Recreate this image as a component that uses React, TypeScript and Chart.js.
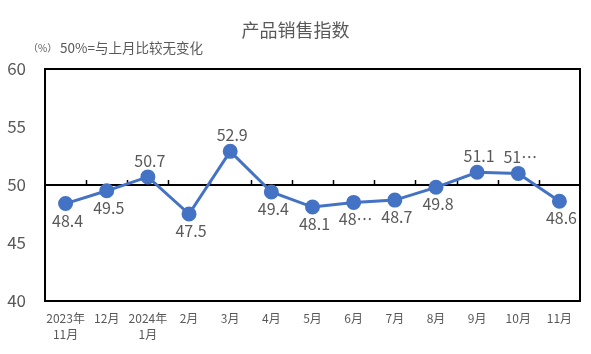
import React, { useEffect, useRef } from "react";
import { Chart, registerables } from "chart.js";

Chart.register(...registerables);

const categories: string[][] = [
  ["2023年", "11月"], ["12月"], ["2024年", "1月"], ["2月"], ["3月"], ["4月"],
  ["5月"], ["6月"], ["7月"], ["8月"], ["9月"], ["10月"], ["11月"],
];
const values: number[] = [48.4, 49.5, 50.7, 47.5, 52.9, 49.4, 48.1, 48.5, 48.7, 49.8, 51.1, 51.0, 48.6];
const pointLabels: string[] = ["48.4", "49.5", "50.7", "47.5", "52.9", "49.4", "48.1", "48⋯", "48.7", "49.8", "51.1", "51⋯", "48.6"];
const labelAbove: boolean[] = [false, false, true, false, true, false, false, false, false, false, true, true, false];
const yTicks: number[] = [40, 45, 50, 55, 60];

const title = "产品销售指数";
const unitNote = "（%）";
const note = "50%=与上月比较无变化";
const FONT = "'Noto Sans CJK SC', 'Noto Sans', sans-serif";
const GRAY = "#595959";
const BLUE = "#4472C4";

const decorPlugin = {
  id: "decor",
  beforeDatasetsDraw(chart: any) {
    const { ctx, chartArea } = chart;
    const { left, right, top, bottom } = chartArea;
    const x = chart.scales.x;
    const y = chart.scales.y;
    ctx.save();
    ctx.strokeStyle = "#000";
    ctx.lineWidth = 2;
    ctx.strokeRect(left, top, right - left, bottom - top);
    const y50 = y.getPixelForValue(50);
    ctx.beginPath();
    ctx.moveTo(left, y50);
    ctx.lineTo(right, y50);
    ctx.stroke();
    ctx.lineWidth = 1.5;
    const n = categories.length;
    const step = (right - left) / n;
    for (let i = 1; i < n; i++) {
      const px = Math.round(x.getPixelForValue(i) - step / 2) + 0.5;
      ctx.beginPath();
      ctx.moveTo(px, y50);
      ctx.lineTo(px, y50 - 5);
      ctx.stroke();
    }
    ctx.restore();
  },
  afterDatasetsDraw(chart: any) {
    const { ctx } = chart;
    const meta = chart.getDatasetMeta(0);
    ctx.save();
    ctx.fillStyle = GRAY;
    ctx.font = `16px ${FONT}`;
    ctx.textAlign = "center";
    ctx.textBaseline = "middle";
    meta.data.forEach((pt: any, i: number) => {
      const dy = labelAbove[i] ? -16 : 17;
      ctx.fillText(pointLabels[i], pt.x + 2, pt.y + dy);
    });
    // title
    ctx.font = `18px ${FONT}`;
    ctx.textAlign = "center";
    ctx.fillText(title, chart.width / 2, 30);
    // note
    ctx.textAlign = "left";
    ctx.font = `10px ${FONT}`;
    ctx.fillText(unitNote, 28, 48);
    ctx.font = `13.5px ${FONT}`;
    ctx.fillText(note, 60, 48);
    ctx.restore();
  },
};

export default function App() {
  const ref = useRef<HTMLCanvasElement>(null);
  useEffect(() => {
    document.body.style.margin = "0";
    const chart = new Chart(ref.current!, {
      type: "line",
      data: {
        labels: categories,
        datasets: [
          {
            data: values,
            borderColor: BLUE,
            backgroundColor: BLUE,
            borderWidth: 3,
            pointRadius: 6,
            pointBackgroundColor: BLUE,
            pointBorderColor: BLUE,
            tension: 0,
          },
        ],
      },
      options: {
        animation: false,
        responsive: false,
        layout: { padding: { top: 69, right: 11, left: 0, bottom: 0 } },
        plugins: { legend: { display: false }, tooltip: { enabled: false }, title: { display: false } },
        scales: {
          x: {
            offset: true,
            grid: { display: false, drawTicks: false },
            border: { display: false },
            ticks: {
              color: GRAY,
              font: { size: 12, family: FONT, lineHeight: 1.35 },
              padding: 9,
              maxRotation: 0,
              autoSkip: false,
            },
            afterFit: (s: any) => { s.height = 53; },
          },
          y: {
            min: 40,
            max: 60,
            afterBuildTicks: (s: any) => { s.ticks = yTicks.map((v) => ({ value: v })); },
            grid: { display: false, drawTicks: false },
            border: { display: false },
            ticks: { color: GRAY, font: { size: 17, family: FONT }, padding: 19 },
            afterFit: (s: any) => { s.width = 45; },
          },
        },
      },
      plugins: [decorPlugin],
    });
    return () => chart.destroy();
  }, []);
  return <canvas ref={ref} width={591} height={354} style={{ display: "block" }} />;
}
